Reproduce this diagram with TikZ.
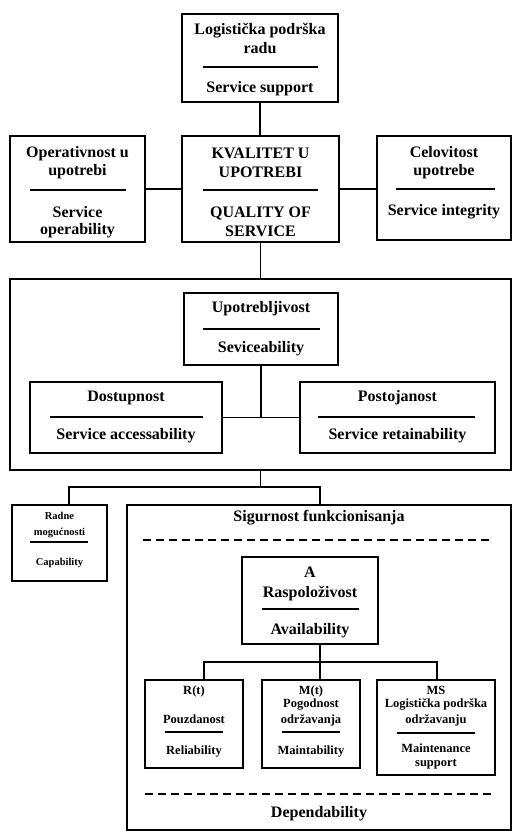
\documentclass[tikz,border=0pt]{standalone}
\usepackage{fontspec}
\setmainfont{Liberation Serif}
\begin{document}
\begin{tikzpicture}[x=1pt,y=-1pt,
  box/.style={draw, line width=1.6pt, rectangle, inner sep=0pt},
  big/.style={font=\fontsize{16}{19}\selectfont\bfseries},
  sml/.style={font=\fontsize{12.5}{15}\selectfont\bfseries},
  tny/.style={font=\fontsize{10.5}{13}\selectfont\bfseries},
  txt/.style={anchor=base, inner sep=0pt},
  sepline/.style={line width=1.3pt},
  conn/.style={line width=1.6pt},
  dline/.style={line width=1.5pt, dash pattern=on 8pt off 5pt}]
\useasboundingbox (0,0) rectangle (513,831);

% ---- boxes ----
\node[box, minimum width=156pt, minimum height=88pt] (T) at (260,58) {};
\node[box, minimum width=157pt, minimum height=106pt] (Q) at (260.5,189) {};
\node[box, minimum width=135pt, minimum height=106pt] (O) at (77.5,189) {};
\node[box, minimum width=134pt, minimum height=104pt] (C) at (444,188) {};
\node[box, minimum width=501pt, minimum height=191pt] (B) at (260.5,374.5) {};
\node[box, minimum width=154pt, minimum height=72pt] (U) at (261,329) {};
\node[box, minimum width=192pt, minimum height=71pt] (D) at (126,417.5) {};
\node[box, minimum width=195pt, minimum height=71pt] (P) at (397.5,417.5) {};
\node[box, minimum width=95pt, minimum height=76pt] (R) at (59.5,543) {};
\node[box, minimum width=384pt, minimum height=325pt] (S) at (319,667.5) {};
\node[box, minimum width=136pt, minimum height=87pt] (A) at (310,600.5) {};
\node[box, minimum width=98pt, minimum height=88pt] (Rt) at (194,724) {};
\node[box, minimum width=98pt, minimum height=88pt] (Mt) at (311,724) {};
\node[box, minimum width=118pt, minimum height=95pt] (MS) at (436,727.5) {};

% ---- texts ----
\node[txt,big] (t1) at (260,34) {Logistička podrška};
\node[txt,big] (t2) at (260,53) {radu};
\node[txt,big] (t3) at (260,92) {Service support};
\draw[sepline] (203,67) -- (318,67);

\node[txt,big] (q1) at (260.5,158) {KVALITET U};
\node[txt,big] (q2) at (260.5,177) {UPOTREBI};
\node[txt,big] (q3) at (260.5,217) {QUALITY OF};
\node[txt,big] (q4) at (260.5,236) {SERVICE};
\draw[sepline] (203,190) -- (318,190);

\node[txt,big] (o1) at (77.5,157) {Operativnost u};
\node[txt,big] (o2) at (77.5,175) {upotrebi};
\node[txt,big] (o3) at (77.5,217) {Service};
\node[txt,big] (o4) at (77.5,234) {operability};
\draw[sepline] (30,190) -- (126,190);

\node[txt,big] (c1) at (444,157) {Celovitost};
\node[txt,big] (c2) at (444,175) {upotrebe};
\node[txt,big] (c3) at (444,215) {Service integrity};
\draw[sepline] (396,189) -- (495,189);

\node[txt,big] (u1) at (261,312) {Upotrebljivost};
\node[txt,big] (u2) at (261,352) {Seviceability};
\draw[sepline] (203,329) -- (320,329);

\node[txt,big] (d1) at (126,401) {Dostupnost};
\node[txt,big] (d2) at (126,439) {Service accessability};
\draw[sepline] (50,417) -- (203,417);

\node[txt,big] (p1) at (397.5,401) {Postojanost};
\node[txt,big] (p2) at (397.5,439) {Service retainability};
\draw[sepline] (318,417) -- (475,417);

\node[txt,tny] (r1) at (59.5,519) {Radne};
\node[txt,tny] (r2) at (59.5,535) {mogućnosti};
\node[txt,tny] (r3) at (59.5,565) {Capability};
\draw[sepline] (30,542) -- (88,542);

\node[txt,big] (s1) at (319,521) {Sigurnost funkcionisanja};
\draw[dline] (143,540) -- (490,540);
\node[txt,big] (s2) at (319,817) {Dependability};
\draw[dline] (145,794) -- (492,794);

\node[txt,big] (a1) at (310,577) {A};
\node[txt,big] (a2) at (310,597) {Raspoloživost};
\node[txt,big] (a3) at (310,634) {Availability};
\draw[sepline] (262,609) -- (359,609);

\node[txt,sml] (rt1) at (194,694) {R(t)};
\node[txt,sml] (rt2) at (194,723) {Pouzdanost};
\node[txt,sml] (rt3) at (194,754) {Reliability};
\draw[sepline] (165,732) -- (223,732);

\node[txt,sml] (mt1) at (311,694) {M(t)};
\node[txt,sml] (mt2) at (311,707) {Pogodnost};
\node[txt,sml] (mt3) at (311,723) {održavanja};
\node[txt,sml] (mt4) at (311,754) {Maintability};
\draw[sepline] (282,732) -- (340,732);

\node[txt,sml] (ms1) at (436,694) {MS};
\node[txt,sml] (ms2) at (436,707) {Logistička podrška};
\node[txt,sml] (ms3) at (436,723) {održavanju};
\node[txt,sml] (ms4) at (436,752) {Maintenance};
\node[txt,sml] (ms5) at (436,766) {support};
\draw[sepline] (397,733) -- (475,733);

% ---- connectors ----
\draw[conn] (T.south) -- (T.south |- Q.north);
\draw[conn] (O.east) -- (Q.west);
\draw[conn] (Q.east) -- (Q.east -| C.west);
\draw[conn] (Q.south) -- (Q.south |- B.north);
\draw[conn] (U.south) -- (U.south |- D.east);
\draw[conn] (D.east) -- (P.west);

\coordinate (jl) at (69,487);
\coordinate (jr) at (320,487);
\draw[conn] (B.south) -- (B.south |- jl);
\draw[conn] (jl |- R.north) -- (jl) -- (jr) -- (jr |- S.north);

\coordinate (k1) at (204,662);
\coordinate (k2) at (320,662);
\coordinate (k3) at (437,662);
\draw[conn] (k2 |- A.south) -- (k2);
\draw[conn] (k1 |- Rt.north) -- (k1) -- (k3) -- (k3 |- MS.north);
\draw[conn] (k2) -- (k2 |- Mt.north);
\end{tikzpicture}
\end{document}
